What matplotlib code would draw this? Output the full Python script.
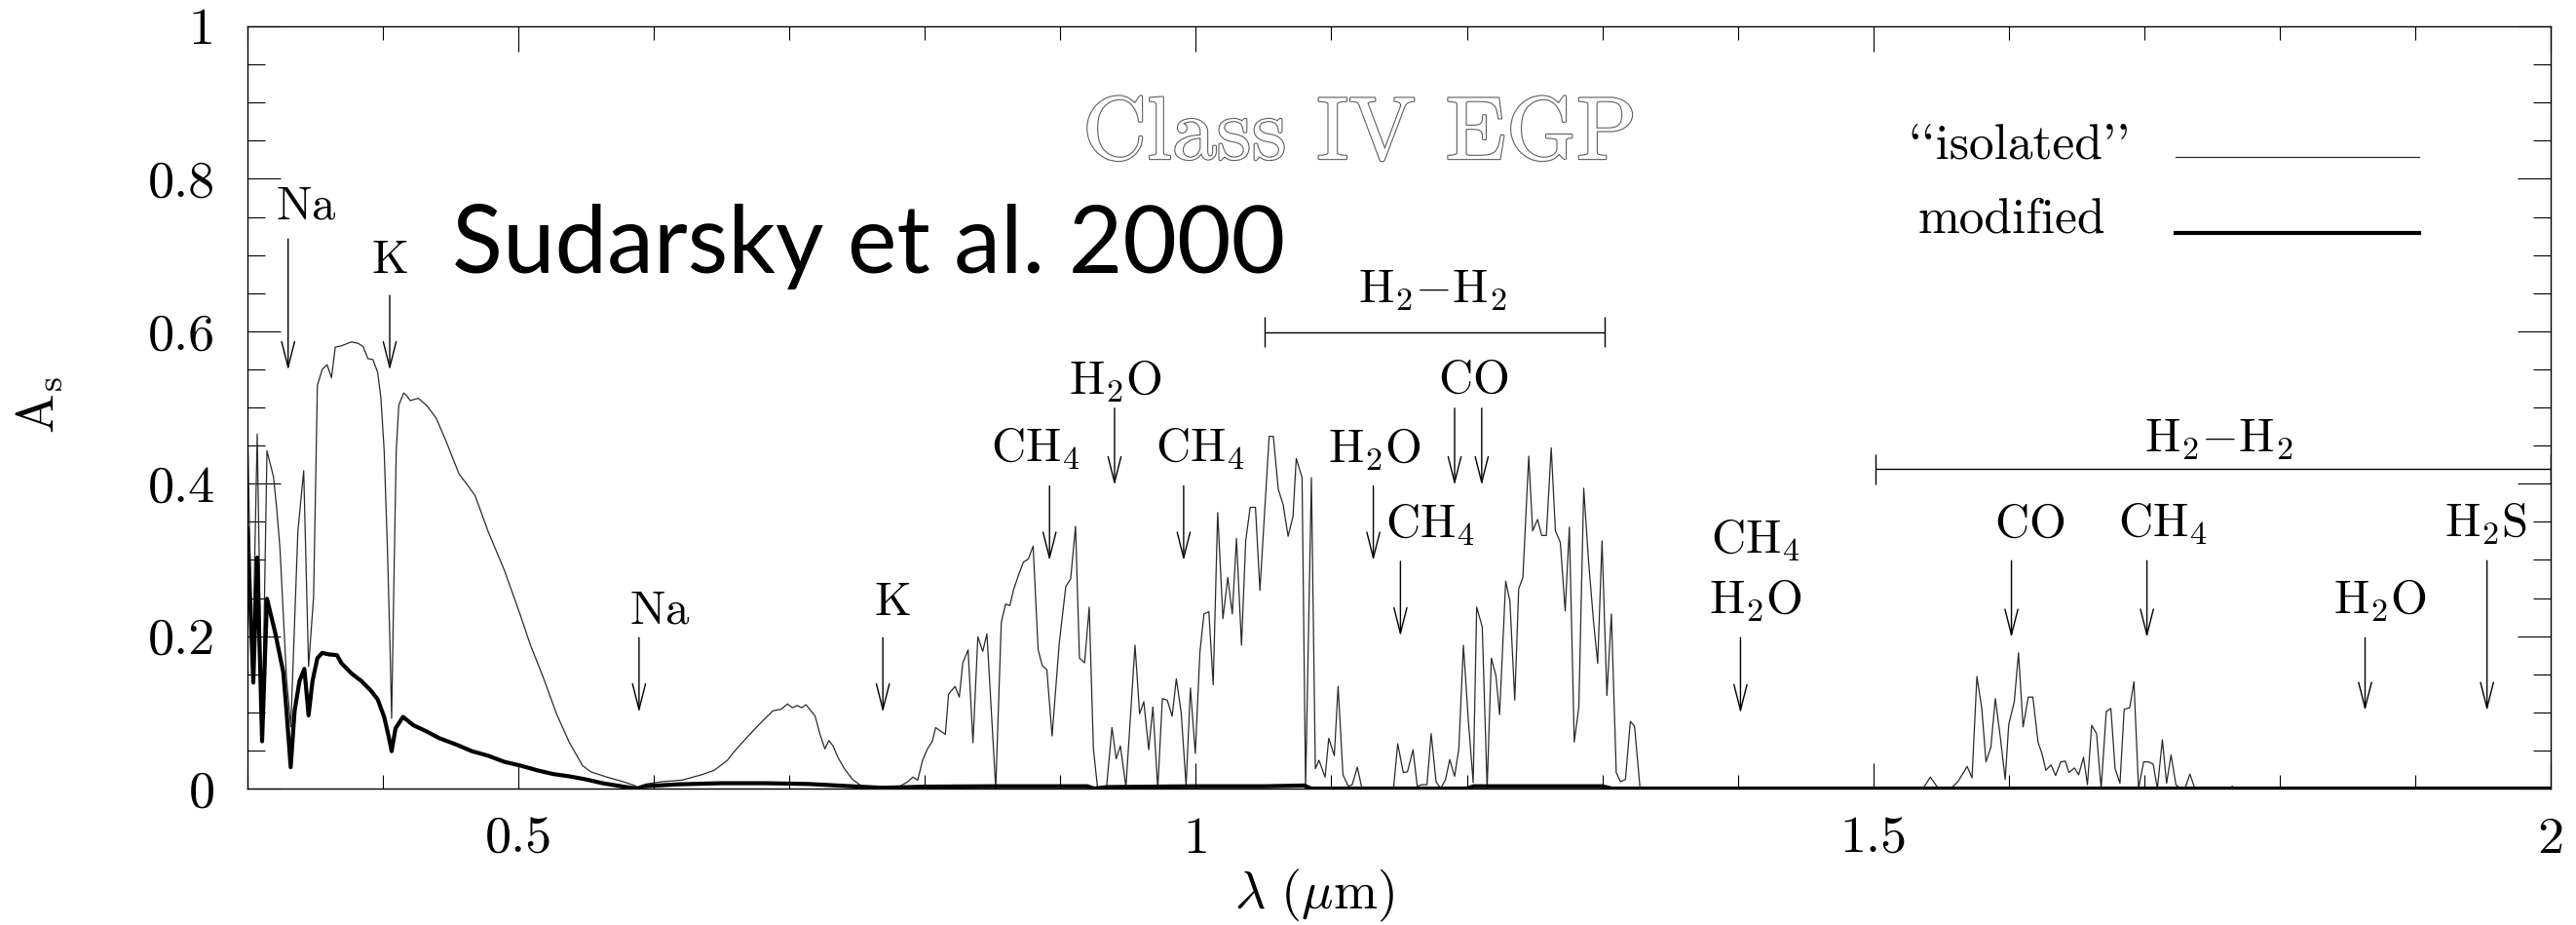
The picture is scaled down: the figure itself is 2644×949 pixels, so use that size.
import matplotlib
matplotlib.use("Agg")
import matplotlib.pyplot as plt
import matplotlib.patheffects as pe
from matplotlib.ticker import FixedLocator, MultipleLocator

plt.rcParams["mathtext.fontset"] = "cm"
plt.rcParams["font.family"] = "cmr10"
plt.rcParams["axes.formatter.use_mathtext"] = True

# "isolated" spectrum (thin line), wavelength in micron
iso_wave = [
    0.3000, 0.3036, 0.3072, 0.3108, 0.3144, 0.3192, 0.3216, 0.3240, 0.3264, 0.3288,
    0.3320, 0.3372, 0.3415, 0.3451, 0.3488, 0.3516, 0.3552, 0.3588, 0.3620, 0.3648,
    0.3696, 0.3768, 0.3817, 0.3853, 0.3889, 0.3925, 0.3961, 0.3985, 0.4009, 0.4033,
    0.4052, 0.4064, 0.4081, 0.4098, 0.4117, 0.4153, 0.4177, 0.4201, 0.4261, 0.4321,
    0.4393, 0.4465, 0.4561, 0.4633, 0.4681, 0.4777, 0.4897, 0.5017, 0.5089, 0.5185,
    0.5281, 0.5377, 0.5474,
    0.5533, 0.5653, 0.5773, 0.5857, 0.5898, 0.5941, 0.6061, 0.6206, 0.6350, 0.6446,
    0.6542, 0.6590, 0.6686, 0.6782, 0.6878, 0.6938, 0.6986, 0.7022, 0.7058, 0.7089,
    0.7123, 0.7154, 0.7190, 0.7226, 0.7262, 0.7291, 0.7322, 0.7358, 0.7406, 0.7466,
    0.7527, 0.7647, 0.7743, 0.7815, 0.7875, 0.7911, 0.7947, 0.7983, 0.8019, 0.8055,
    0.8079, 0.8151, 0.8175, 0.8223, 0.8254, 0.8280, 0.8319, 0.8355,
    0.8391, 0.8427, 0.8458, 0.8523, 0.8564, 0.8595, 0.8627, 0.8655, 0.8691, 0.8727,
    0.8763, 0.8799, 0.8836, 0.8867, 0.8900, 0.8939, 0.8992, 0.9040, 0.9076, 0.9112,
    0.9141, 0.9179, 0.9213, 0.9244, 0.9275, 0.9340, 0.9381, 0.9412, 0.9443, 0.9484,
    0.9551, 0.9585, 0.9616, 0.9652, 0.9683, 0.9719, 0.9753, 0.9789, 0.9825, 0.9856,
    0.9892, 0.9928, 0.9960, 0.9996, 1.0030, 1.0060, 1.0096, 1.0128, 1.0161, 1.0200,
    1.0236, 1.0269, 1.0300, 1.0337, 1.0368, 1.0401, 1.0440, 1.0473,
    1.0541, 1.0572, 1.0608, 1.0645, 1.0681, 1.0717, 1.0741, 1.0784, 1.0810, 1.0853,
    1.0882, 1.0909, 1.0954, 1.0981, 1.1022, 1.1050, 1.1086, 1.1125, 1.1154, 1.1192,
    1.1226, 1.1459, 1.1490, 1.1531, 1.1562, 1.1603, 1.1634, 1.1665, 1.1706, 1.1737,
    1.1773, 1.1807, 1.1843, 1.1874, 1.1910, 1.1941, 1.1975, 1.2011, 1.2047, 1.2073,
    1.2114, 1.2150, 1.2181, 1.2215, 1.2242, 1.2287, 1.2318, 1.2354, 1.2383, 1.2414,
    1.2457, 1.2486, 1.2522, 1.2553, 1.2587, 1.2623, 1.2654, 1.2690, 1.2726, 1.2757,
    1.2793, 1.2827, 1.2863, 1.2899, 1.2935, 1.2966, 1.2998, 1.3034, 1.3067, 1.3103,
    1.3134, 1.3171, 1.3207, 1.3238, 1.3279,
    1.5368, 1.5421, 1.5481, 1.5572, 1.5625, 1.5693, 1.5729, 1.5765, 1.5801, 1.5832,
    1.5868, 1.5901, 1.5938, 1.5974, 1.6000, 1.6041, 1.6072, 1.6106, 1.6144, 1.6178,
    1.6216, 1.6245, 1.6274, 1.6312, 1.6346, 1.6384, 1.6418, 1.6444, 1.6485, 1.6516,
    1.6552, 1.6581, 1.6612, 1.6648, 1.6682, 1.6720, 1.6754, 1.6785, 1.6821, 1.6852,
    1.6893, 1.6924, 1.6958, 1.6996, 1.7033, 1.7066, 1.7097, 1.7134, 1.7165, 1.7198,
    1.7234, 1.7266, 1.7301, 1.7337, 1.7374, 1.7620, 1.7650, 1.7674, 2.0000,
]
iso_albedo = [
    0.477, 0.145, 0.465, 0.064, 0.443, 0.409, 0.367, 0.315, 0.230, 0.145,
    0.081, 0.337, 0.417, 0.160, 0.251, 0.529, 0.550, 0.556, 0.539, 0.579,
    0.581, 0.586, 0.584, 0.580, 0.564, 0.563, 0.546, 0.512, 0.443, 0.315,
    0.188, 0.092, 0.273, 0.443, 0.503, 0.519, 0.515, 0.509, 0.512, 0.503,
    0.486, 0.456, 0.413, 0.396, 0.384, 0.337, 0.286, 0.226, 0.188, 0.145,
    0.098, 0.060, 0.030,
    0.022, 0.015, 0.009, 0.004, 0.000, 0.006, 0.009, 0.011, 0.018, 0.024,
    0.037, 0.048, 0.067, 0.085, 0.102, 0.104, 0.111, 0.106, 0.109, 0.106,
    0.110, 0.103, 0.095, 0.071, 0.052, 0.063, 0.056, 0.041, 0.026, 0.012,
    0.004, 0.000, 0.001, 0.003, 0.009, 0.015, 0.011, 0.037, 0.052, 0.062,
    0.080, 0.071, 0.124, 0.134, 0.120, 0.165, 0.182, 0.060,
    0.199, 0.180, 0.203, 0.000, 0.218, 0.242, 0.240, 0.261, 0.280, 0.297,
    0.301, 0.318, 0.182, 0.161, 0.156, 0.069, 0.191, 0.265, 0.275, 0.344,
    0.171, 0.165, 0.238, 0.052, 0.000, 0.000, 0.080, 0.039, 0.056, 0.002,
    0.188, 0.098, 0.114, 0.051, 0.107, 0.000, 0.118, 0.116, 0.095, 0.144,
    0.099, 0.004, 0.132, 0.046, 0.179, 0.229, 0.232, 0.136, 0.362, 0.223,
    0.277, 0.229, 0.328, 0.188, 0.325, 0.369, 0.369, 0.260,
    0.462, 0.462, 0.393, 0.372, 0.331, 0.357, 0.433, 0.408, 0.000, 0.408,
    0.026, 0.037, 0.015, 0.066, 0.043, 0.134, 0.018, 0.003, 0.005, 0.028,
    0.000, 0.000, 0.059, 0.021, 0.022, 0.051, 0.003, 0.005, 0.005, 0.072,
    0.009, 0.000, 0.012, 0.038, 0.016, 0.052, 0.188, 0.090, 0.008, 0.238,
    0.212, 0.000, 0.171, 0.148, 0.097, 0.272, 0.246, 0.116, 0.262, 0.277,
    0.436, 0.338, 0.353, 0.332, 0.332, 0.447, 0.338, 0.323, 0.233, 0.343,
    0.061, 0.107, 0.394, 0.297, 0.220, 0.164, 0.325, 0.122, 0.229, 0.021,
    0.009, 0.012, 0.088, 0.082, 0.000,
    0.000, 0.015, 0.000, 0.000, 0.009, 0.029, 0.014, 0.147, 0.105, 0.035,
    0.054, 0.118, 0.067, 0.012, 0.084, 0.114, 0.178, 0.081, 0.120, 0.120,
    0.061, 0.046, 0.024, 0.031, 0.017, 0.035, 0.036, 0.021, 0.027, 0.018,
    0.041, 0.005, 0.083, 0.072, 0.000, 0.101, 0.105, 0.026, 0.007, 0.104,
    0.106, 0.140, 0.000, 0.035, 0.035, 0.032, 0.000, 0.064, 0.007, 0.044,
    0.005, 0.000, 0.000, 0.019, 0.000, 0.000, 0.003, 0.000, 0.000,
]

# "modified" spectrum (thick line)
mod_wave = [
    0.3000, 0.3043, 0.3072, 0.3108, 0.3144, 0.3204, 0.3264, 0.3288, 0.3319, 0.3348,
    0.3384, 0.3420, 0.3451, 0.3480, 0.3516, 0.3552, 0.3600, 0.3660, 0.3696, 0.3768,
    0.3841, 0.3913, 0.3961, 0.4009, 0.4045, 0.4064, 0.4093, 0.4148, 0.4225, 0.4321,
    0.4417, 0.4537, 0.4657, 0.4777, 0.4897, 0.5017, 0.5137, 0.5257, 0.5377, 0.5498,
    0.5620, 0.5794, 0.5875, 0.5926, 0.6174, 0.6496, 0.6817, 0.7139, 0.7460, 0.7686,
    0.8000, 0.8500, 0.9000, 0.9200, 0.9250, 0.9350, 1.0000, 1.0500, 1.0800, 1.0850,
    1.2000, 1.2050, 1.3000, 1.3070, 2.0000,
]
mod_albedo = [
    0.341, 0.139, 0.303, 0.062, 0.249, 0.205, 0.153, 0.102, 0.028, 0.102,
    0.141, 0.157, 0.096, 0.141, 0.171, 0.178, 0.176, 0.175, 0.164, 0.151,
    0.141, 0.128, 0.117, 0.094, 0.066, 0.049, 0.079, 0.094, 0.083, 0.075,
    0.066, 0.058, 0.049, 0.043, 0.035, 0.030, 0.024, 0.019, 0.016, 0.012,
    0.007, 0.002, 0.000, 0.003, 0.0055, 0.007, 0.007, 0.006, 0.003, 0.001,
    0.0025, 0.003, 0.003, 0.003, 0.000, 0.002, 0.003, 0.003, 0.004, 0.000,
    0.000, 0.003, 0.003, 0.000, 0.000,
]

# absorption-feature arrows: x, top of shaft, tip
arrow_x = [0.330, 0.405, 0.589, 0.769, 0.892, 0.940, 0.991, 1.131, 1.151,
           1.191, 1.211, 1.402, 1.602, 1.702, 1.863, 1.953]
arrow_top = [0.721, 0.647, 0.198, 0.198, 0.397, 0.499, 0.397, 0.397, 0.298,
             0.499, 0.499, 0.198, 0.299, 0.299, 0.198, 0.299]
arrow_tip = [0.549, 0.549, 0.100, 0.100, 0.299, 0.398, 0.299, 0.299, 0.200,
             0.398, 0.398, 0.099, 0.198, 0.198, 0.102, 0.102]

# feature labels: text, x centre, baseline
label_text = [r"$\mathrm{Na}$", r"$\mathrm{K}$", r"$\mathrm{Na}$", r"$\mathrm{K}$",
              r"$\mathrm{CH_4}$", r"$\mathrm{H_2O}$", r"$\mathrm{CH_4}$",
              r"$\mathrm{H_2O}$", r"$\mathrm{CH_4}$", r"$\mathrm{CO}$",
              r"$\mathrm{CH_4}$", r"$\mathrm{H_2O}$", r"$\mathrm{CO}$",
              r"$\mathrm{CH_4}$", r"$\mathrm{H_2O}$", r"$\mathrm{H_2S}$"]
label_x = [0.343, 0.405, 0.604, 0.776, 0.882, 0.941, 1.003, 1.132, 1.173,
           1.205, 1.413, 1.413, 1.615, 1.714, 1.874, 1.952]
label_y = [0.747, 0.676, 0.217, 0.227, 0.429, 0.517, 0.429, 0.428, 0.329,
           0.519, 0.309, 0.229, 0.330, 0.330, 0.230, 0.330]

# H2-H2 collision-induced bands
band_x0 = [1.051, 1.502]
band_x1 = [1.302, 2.000]
band_y = [0.599, 0.419]
band_label_x = [1.175, 1.755]
band_label_y = [0.638, 0.442]

x_major = [0.5, 1.0, 1.5, 2.0]
x_labels = ["0.5", "1", "1.5", "2"]
y_major = [0, 0.2, 0.4, 0.6, 0.8, 1.0]
y_labels = ["0", "0.2", "0.4", "0.6", "0.8", "1"]

W, H = 2644, 949
fig = plt.figure(figsize=(W / 100, H / 100), dpi=100)
ax = fig.add_axes([254 / W, 1 - 809 / H, (2618 - 254) / W, (809 - 27) / H])
ax.set_xlim(0.3, 2.0)
ax.set_ylim(0, 1)

ax.plot(iso_wave, iso_albedo, color="#2a2a2a", lw=0.9)
ax.plot(mod_wave, mod_albedo, color="black", lw=3.0, solid_joinstyle="round")

for x, y0, y1 in zip(arrow_x, arrow_top, arrow_tip):
    ax.annotate("", xy=(x, y1), xytext=(x, y0),
                arrowprops=dict(arrowstyle="->,head_length=0.95,head_width=0.24",
                                lw=1.0, color="black", shrinkA=0, shrinkB=0,
                                mutation_scale=20))
for t, x, y in zip(label_text, label_x, label_y):
    ax.text(x, y, t, ha="center", va="baseline", fontsize=35)

for x0, x1, y, lx, ly in zip(band_x0, band_x1, band_y, band_label_x, band_label_y):
    ax.hlines(y, x0, x1, color="black", lw=1.0)
    ax.vlines([x0, x1], y - 0.02, y + 0.02, color="black", lw=1.0)
    ax.text(lx, ly, r"$\mathrm{H_2{-}H_2}$", ha="center", va="baseline", fontsize=35)

# legend drawn by hand, as in the original
ax.text(1.608, 0.827, "``isolated''", ha="center", va="baseline", fontsize=37)
ax.text(1.602, 0.729, "modified", ha="center", va="baseline", fontsize=37)
ax.plot([1.723, 1.903], [0.829, 0.829], color="#2a2a2a", lw=0.9)
ax.plot([1.723, 1.903], [0.729, 0.729], color="black", lw=3.0)

ax.text(1.121, 0.826, "Class IV EGP", ha="center", va="baseline", fontsize=66,
        color="white",
        path_effects=[pe.withStroke(linewidth=1.6, foreground="#5e5e5e")])
ax.text(0.451, 0.676, "Sudarsky et al. 2000", ha="left", va="baseline",
        fontsize=69, fontfamily="Lato", color="black")

ax.xaxis.set_major_locator(FixedLocator(x_major))
ax.set_xticklabels(x_labels)
ax.xaxis.set_minor_locator(MultipleLocator(0.1))
ax.yaxis.set_major_locator(FixedLocator(y_major))
ax.set_yticklabels(y_labels)
ax.yaxis.set_minor_locator(MultipleLocator(0.05))
ax.tick_params(which="both", direction="in", top=True, right=True,
               width=0.8, color="black")
ax.tick_params(axis="x", which="major", length=19, pad=21, labelsize=39)
ax.tick_params(axis="x", which="minor", length=10)
ax.tick_params(axis="y", which="major", length=24.5, pad=24, labelsize=39)
ax.tick_params(axis="y", which="minor", length=13)
for s in ax.spines.values():
    s.set_linewidth(1.0)

fig.text(40 / W, 1 - 416 / H, r"$\mathrm{A_s}$", rotation=90, ha="center",
         va="center", fontsize=39)
fig.text(1349 / W, 1 - 919 / H, r"$\lambda\ (\mu\mathrm{m})$", ha="center",
         va="center", fontsize=39)

fig.savefig("out.png", dpi=100)
